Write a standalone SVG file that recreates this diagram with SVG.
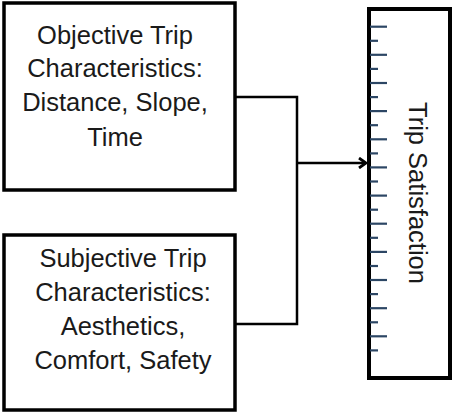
<svg xmlns="http://www.w3.org/2000/svg" width="452" height="413" viewBox="0 0 452 413">
<style>
.box{fill:#fff;stroke:#000;stroke-width:3.5}
.lbl{font-family:"Liberation Sans",Arial,sans-serif;font-size:25.5px;fill:#1a1a1a;text-anchor:middle}
.con{fill:none;stroke:#000;stroke-width:2.5}
.tick{stroke:#2c4664;stroke-width:2.2}
</style>
<defs>
<marker id="arr" markerWidth="12" markerHeight="12" refX="9" refY="6" orient="auto" markerUnits="userSpaceOnUse">
<polyline points="2,1 9,6 2,11" fill="none" stroke="#000" stroke-width="2.8"/>
</marker>
</defs>
<g id="objective">
<rect class="box" x="4" y="3" width="231" height="187"/>
<text class="lbl" x="115" y="44">Objective Trip</text>
<text class="lbl" x="115" y="77">Characteristics:</text>
<text class="lbl" x="115" y="111">Distance, Slope,</text>
<text class="lbl" x="115" y="146">Time</text>
</g>
<g id="subjective">
<rect class="box" x="4" y="235" width="231" height="175"/>
<text class="lbl" x="123" y="267">Subjective Trip</text>
<text class="lbl" x="123" y="301">Characteristics:</text>
<text class="lbl" x="123" y="335">Aesthetics,</text>
<text class="lbl" x="123" y="369">Comfort, Safety</text>
</g>
<g id="satisfaction">
<rect class="box" x="369" y="9" width="81" height="369" style="stroke-width:4"/>
<g id="ticks">
<line class="tick" x1="370" y1="26.7" x2="387" y2="26.7"/>
<line class="tick" x1="370" y1="40.8" x2="378" y2="40.8"/>
<line class="tick" x1="370" y1="54.8" x2="387" y2="54.8"/>
<line class="tick" x1="370" y1="68.9" x2="378" y2="68.9"/>
<line class="tick" x1="370" y1="83.0" x2="387" y2="83.0"/>
<line class="tick" x1="370" y1="97.1" x2="378" y2="97.1"/>
<line class="tick" x1="370" y1="111.1" x2="387" y2="111.1"/>
<line class="tick" x1="370" y1="125.2" x2="378" y2="125.2"/>
<line class="tick" x1="370" y1="139.3" x2="387" y2="139.3"/>
<line class="tick" x1="370" y1="153.4" x2="378" y2="153.4"/>
<line class="tick" x1="370" y1="167.4" x2="387" y2="167.4"/>
<line class="tick" x1="370" y1="181.5" x2="378" y2="181.5"/>
<line class="tick" x1="370" y1="195.6" x2="387" y2="195.6"/>
<line class="tick" x1="370" y1="209.7" x2="378" y2="209.7"/>
<line class="tick" x1="370" y1="223.7" x2="387" y2="223.7"/>
<line class="tick" x1="370" y1="237.8" x2="378" y2="237.8"/>
<line class="tick" x1="370" y1="251.9" x2="387" y2="251.9"/>
<line class="tick" x1="370" y1="266.0" x2="378" y2="266.0"/>
<line class="tick" x1="370" y1="280.0" x2="387" y2="280.0"/>
<line class="tick" x1="370" y1="294.1" x2="378" y2="294.1"/>
<line class="tick" x1="370" y1="308.2" x2="387" y2="308.2"/>
<line class="tick" x1="370" y1="322.3" x2="378" y2="322.3"/>
<line class="tick" x1="370" y1="336.3" x2="387" y2="336.3"/>
<line class="tick" x1="370" y1="350.4" x2="378" y2="350.4"/>
</g>
<text class="lbl" transform="translate(409,193) rotate(90)" x="0" y="0">Trip Satisfaction</text>
</g>
<g id="connectors">
<polyline class="con" points="235,97 297,97 297,324 235,324"/>
<line class="con" x1="297" y1="163" x2="366" y2="163" marker-end="url(#arr)"/>
</g>
</svg>
